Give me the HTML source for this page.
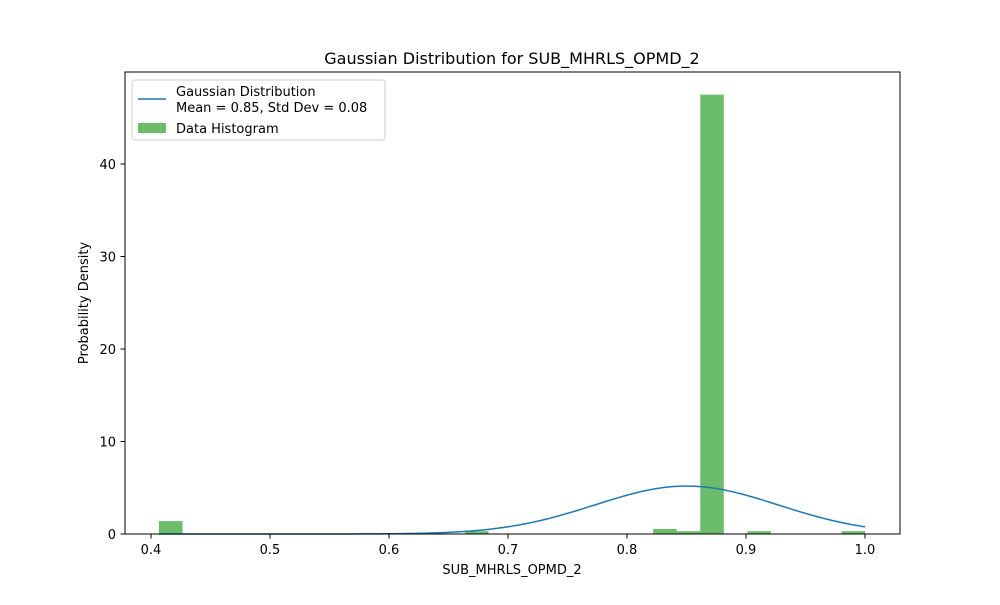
<!DOCTYPE html>
<html><head><meta charset="utf-8"><style>
body{margin:0;background:#fff;font-family:"Liberation Sans","DejaVu Sans",sans-serif;}
</style></head><body>
<svg id="chart" width="1000" height="600" xmlns="http://www.w3.org/2000/svg" font-family="DejaVu Sans, Liberation Sans, sans-serif">
<rect width="1000" height="600" fill="#fff"/>
<text x="512" y="64" font-size="16" text-anchor="middle">Gaussian Distribution for SUB_MHRLS_OPMD_2</text>
<text x="512" y="574" font-size="13" text-anchor="middle">SUB_MHRLS_OPMD_2</text>
<text transform="translate(88,303) rotate(-90)" font-size="13" text-anchor="middle">Probability Density</text>
<g id="bars"></g>
<g id="curve"></g>
<rect x="125" y="72" width="775" height="462" fill="none" stroke="#000" stroke-width="1"/>
<g id="ticks" font-size="13"></g>
<g>
<rect x="132" y="80" width="253" height="60" rx="3" fill="#fff" fill-opacity="0.8" stroke="#ccc"/>
<line x1="138" y1="99" x2="166" y2="99" stroke="#1f77b4" stroke-width="1.5"/>
<text x="176" y="96" font-size="13">Gaussian Distribution</text>
<text x="176" y="112" font-size="13">Mean = 0.85, Std Dev = 0.08</text>
<rect x="138" y="123" width="28" height="10" fill="#2ca02c" fill-opacity="0.7"/>
<text x="176" y="133" font-size="13">Data Histogram</text>
</g>
</svg>
<script>
const binStart = 0.4067, binEnd = 1.0, binCount = 30;
const binIndices = [0, 13, 21, 22, 23, 25, 29];
const binDensities = [1.4, 0.3, 0.55, 0.3, 47.5, 0.3, 0.3];
const gaussMean = 0.85, gaussStd = 0.077;
const xTicks = [0.4, 0.5, 0.6, 0.7, 0.8, 0.9, 1.0];
const yTicks = [0, 10, 20, 30, 40];
const NS = "http://www.w3.org/2000/svg";
const xs = v => 151 + (v - 0.4) * 1190;
const ys = v => 534 - v * 9.25;
const bw = (binEnd - binStart) / binCount;
const bars = document.getElementById('bars');
binIndices.forEach((b, i) => {
  const r = document.createElementNS(NS, 'rect');
  const x0 = xs(binStart + b * bw), x1 = xs(binStart + (b + 1) * bw);
  r.setAttribute('x', x0); r.setAttribute('width', x1 - x0);
  r.setAttribute('y', ys(binDensities[i])); r.setAttribute('height', 534 - ys(binDensities[i]));
  r.setAttribute('fill', '#2ca02c'); r.setAttribute('fill-opacity', '0.7');
  
  
  bars.appendChild(r);
});
let d = '';
for (let i = 0; i <= 300; i++) {
  const x = binStart + (binEnd - binStart) * i / 300;
  const y = Math.exp(-0.5 * ((x - gaussMean) / gaussStd) ** 2) / (gaussStd * Math.sqrt(2 * Math.PI));
  d += (i ? 'L' : 'M') + xs(x).toFixed(2) + ',' + ys(y).toFixed(2);
}
const p = document.createElementNS(NS, 'path');
p.setAttribute('d', d); p.setAttribute('fill', 'none'); p.setAttribute('stroke', '#1f77b4'); p.setAttribute('stroke-width', '1.5');


document.getElementById('curve').appendChild(p);
const tg = document.getElementById('ticks');
xTicks.forEach(v => {
  const l = document.createElementNS(NS, 'line');
  l.setAttribute('x1', xs(v)); l.setAttribute('x2', xs(v)); l.setAttribute('y1', 534); l.setAttribute('y2', 538.5); l.setAttribute('stroke', '#000');
  
  
  tg.appendChild(l);
  const t = document.createElementNS(NS, 'text');
  t.setAttribute('x', xs(v)); t.setAttribute('y', 554); t.setAttribute('text-anchor', 'middle'); t.textContent = v.toFixed(1);
  
  
  tg.appendChild(t);
});
yTicks.forEach(v => {
  const l = document.createElementNS(NS, 'line');
  l.setAttribute('x1', 120.5); l.setAttribute('x2', 125); l.setAttribute('y1', ys(v)); l.setAttribute('y2', ys(v)); l.setAttribute('stroke', '#000');
  
  
  tg.appendChild(l);
  const t = document.createElementNS(NS, 'text');
  t.setAttribute('x', 116); t.setAttribute('y', ys(v) + 5); t.setAttribute('text-anchor', 'end'); t.textContent = v;
  
  
  tg.appendChild(t);
});
</script>
</body></html>
